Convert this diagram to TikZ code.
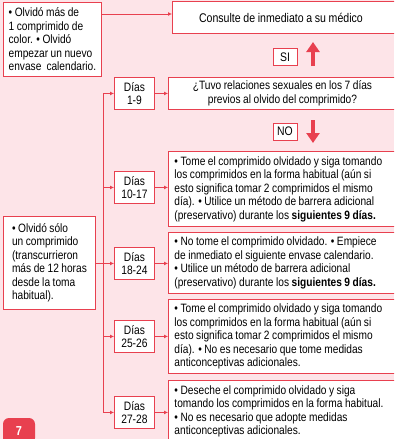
\documentclass[tikz,border=0pt]{standalone}
\usepackage{fontspec}
\setmainfont{Liberation Sans}[FakeStretch=0.84,WordSpace=0.9]
\usetikzlibrary{arrows.meta,positioning}
\definecolor{pilred}{HTML}{E8404F}
\definecolor{pilpink}{HTML}{FDE4E8}
\tikzset{
  box/.style={draw=pilred,line width=0.9pt,fill=white,
    font=\fontsize{12.1}{13.5}\selectfont},
  casebox/.style 2 args={box,anchor=north west,inner xsep=5pt,inner ysep=0pt,
    minimum width=#1,minimum height=#2,align=left},
  daybox/.style={box,anchor=north west,inner sep=0pt,
    minimum width=40,minimum height=32,align=center,
    font=\fontsize{12.2}{13.4}\selectfont},
  notebox/.style={box,anchor=north west,inner xsep=6pt,inner ysep=0pt,
    text width=234pt,minimum width=246,minimum height=#1,align=flush left},
  answer/.style={box,inner sep=0pt,minimum width=24,minimum height=17,
    font=\fontsize{12.4}{13}\selectfont},
  link/.style={draw=pilred,line width=0.9pt},
  tip/.style={link,-{Latex[length=4pt,width=4pt]}},
  bigarrow/.style={draw=pilred,line width=4.5pt,
    -{Triangle[length=10pt,width=13pt]}}
}

\begin{document}
\begin{tikzpicture}[x=1pt,y=-1pt]
\clip (0,0) rectangle (394,439);
\fill[pilpink] (0,0) rectangle (394,439);

% left column
\node[casebox={98}{74}] (mas) at (3,2)
  {• Olvidó más de\\ 1 comprimido de\\ color. • Olvidó\\ empezar un nuevo\\ envase~ calendario.};
\node[casebox={92}{93}] (solo) at (3,216)
  {• Olvidó sólo\\ un comprimido\\ (transcurrieron\\ más de 12 horas\\ desde la toma\\ habitual).};

% top row
\node[box,anchor=north west,minimum width=226,minimum height=32,
  font=\fontsize{12.6}{14}\selectfont] (consulte) at (172,1)
  {\kern-9pt Consulte de inmediato a su médico};
\node[answer] (si) at (285,57) {SI};
\draw[bigarrow] (313,66) -- (313,42);

% question
\node[daybox] (d1) at (114,77) {Días\\1-9};
\node[box,anchor=north west,minimum width=228,minimum height=32,inner sep=0pt,
  align=center] (pregunta) at (168,77)
  {¿Tuvo relaciones sexuales en los 7 días\\previos al olvido del comprimido?};
\node[answer] (no) at (285,131.5) {NO};
\draw[bigarrow] (313,120) -- (313,143);

% day ranges
\node[daybox] (d2) at (114,171) {Días\\10-17};
\node[daybox] (d3) at (114,247) {Días\\18-24};
\node[daybox] (d4) at (114,320) {Días\\25-26};
\node[daybox] (d5) at (114,396) {Días\\27-28};

\node[notebox=75] (n2) at (168,151)
  {• Tome el comprimido olvidado y siga tomando\\
   los comprimidos en la forma habitual (aún si\\
   esto significa tomar 2 comprimidos el mismo\\
   día). • Utilice un método de barrera adicional\\
   (preservativo) durante los \textbf{siguientes 9 días.}};
\node[notebox=61] (n3) at (168,232)
  {• No tome el comprimido olvidado. • Empiece\\
   de inmediato el siguiente envase calendario.\\
   • Utilice un método de barrera adicional\\
   (preservativo) durante los \textbf{siguientes 9 días.}};
\node[notebox=74] (n4) at (168,299)
  {• Tome el comprimido olvidado y siga tomando\\
   los comprimidos en la forma habitual (aún si\\
   esto significa tomar 2 comprimidos el mismo\\
   día). • No es necesario que tome medidas\\
   anticonceptivas adicionales.};
\node[notebox=62] (n5) at (168,380)
  {• Deseche el comprimido olvidado y siga\\
   tomando los comprimidos en la forma habitual.\\
   • No es necesario que adopte medidas\\
   anticonceptivas adicionales.};

% connectors
\coordinate (trunk) at (103,0);
\draw[tip] (mas.east |- 0,14) -- (consulte.west |- 0,14);
\draw[link] (d1.west -| trunk) -- (d5.west -| trunk);
\draw[link] (solo.east |- d3.west) -- (d3.west -| trunk);
\foreach \d/\n in {d1/pregunta,d2/n2,d3/n3,d4/n4,d5/n5}{
  \draw[tip] (\d.west -| trunk) -- (\d.west);
  \draw[tip] (\d.east) -- (\n.west |- \d.east);
}

% page number
\node[fill=pilred,rounded corners=6pt,minimum width=32,minimum height=26,
  text=white,font=\fontsize{13}{15}\selectfont\bfseries] (pagina) at (19,431) {7};
\end{tikzpicture}
\end{document}
